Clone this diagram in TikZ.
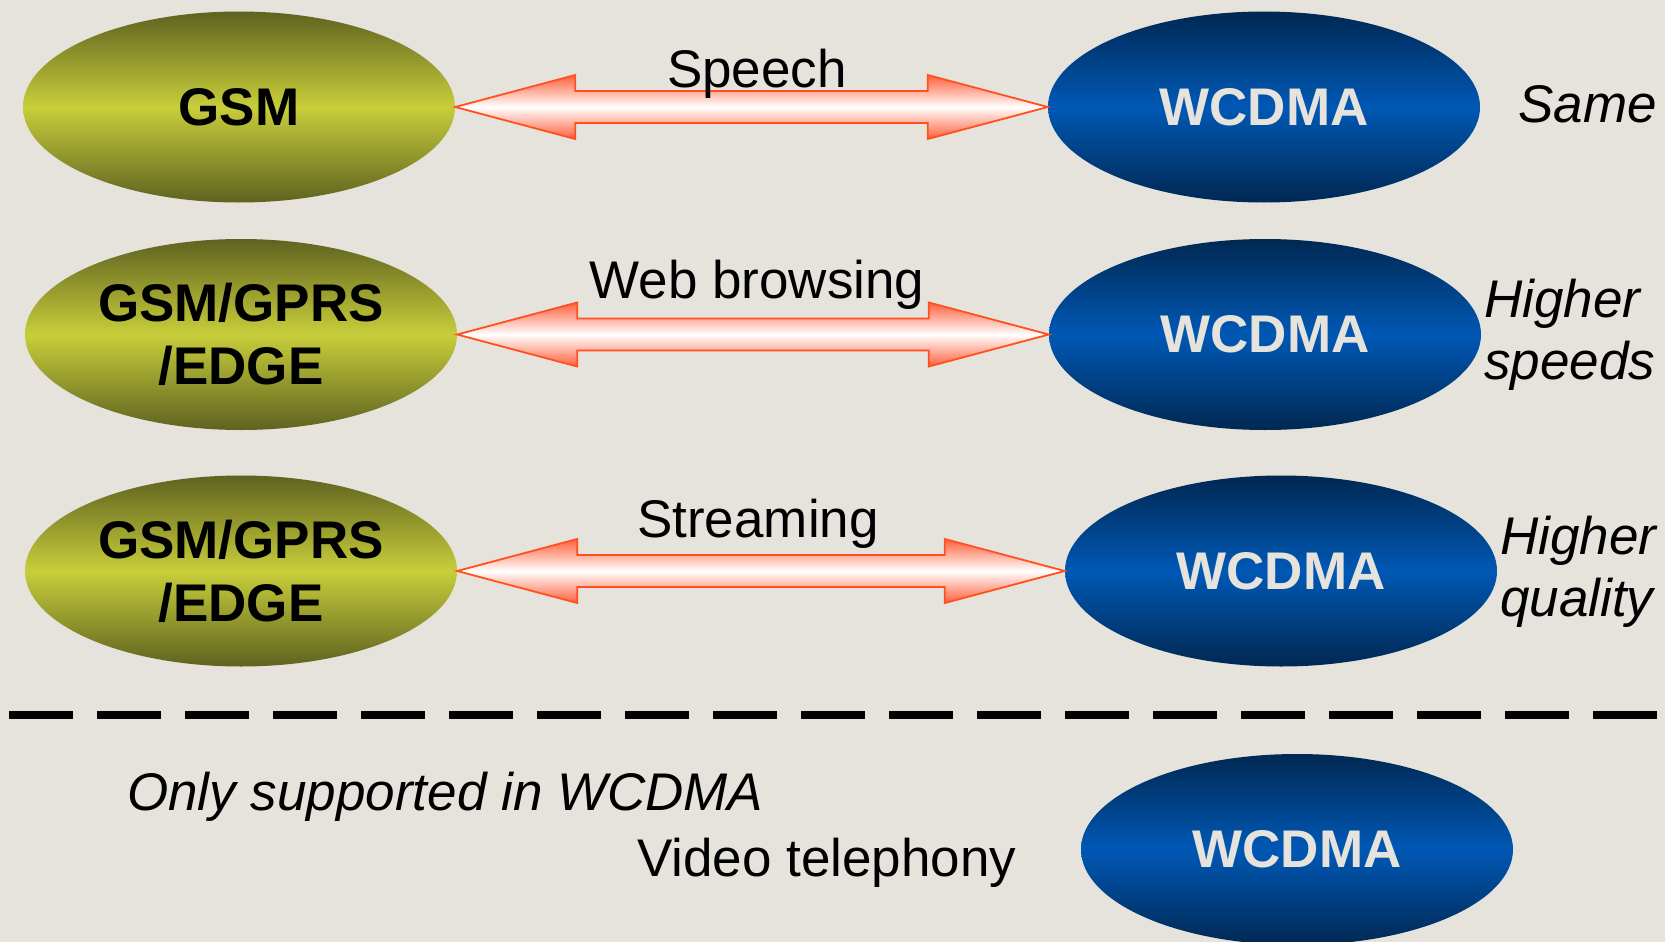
\documentclass[tikz,border=0pt]{standalone}
\usepackage{fontspec}
\setmainfont{Liberation Sans}
\usetikzlibrary{shapes.geometric,calc}

\definecolor{paper}{RGB}{229,227,220}
\definecolor{oliveDark}{RGB}{94,98,32}
\definecolor{oliveLight}{RGB}{200,206,58}
\definecolor{navyDark}{RGB}{0,40,82}
\definecolor{navyLight}{RGB}{0,88,181}
\definecolor{arrowEdge}{RGB}{255,80,30}
\definecolor{arrowFill}{RGB}{255,95,60}

\tikzset{
  bigtext/.style={font=\fontsize{53}{63}\selectfont},
  oval/.style={ellipse, minimum width=432pt, minimum height=191pt, inner sep=0pt,
    align=center, font=\fontsize{53}{63}\selectfont\bfseries},
  gsmoval/.style={oval, top color=oliveDark, bottom color=oliveDark,
    middle color=oliveLight, text=black},
  wcdmaoval/.style={oval, top color=navyDark, bottom color=navyDark,
    middle color=navyLight, text=paper},
  linklabel/.style={bigtext, anchor=base, inner sep=0pt},
  sidenote/.style={font=\fontsize{53}{62}\selectfont\itshape, anchor=base west,
    inner sep=0pt, align=left},
  dblarrowbody/.style={draw=arrowEdge, line width=1.8pt, line join=miter,
    top color=arrowFill, bottom color=arrowFill, middle color=white}
}

% double-headed block arrow between two ellipse nodes
\newcommand{\blockarrow}[2]{%
  \path[dblarrowbody] let \p1=(#1.east), \p2=(#2.west) in
    (\x1,\y1) -- (\x1+120pt,\y1+32pt) -- (\x1+120pt,\y1+16pt)
    -- (\x2-120pt,\y1+16pt) -- (\x2-120pt,\y1+32pt) -- (\x2,\y1)
    -- (\x2-120pt,\y1-32pt) -- (\x2-120pt,\y1-16pt)
    -- (\x1+120pt,\y1-16pt) -- (\x1+120pt,\y1-32pt) -- cycle;}

\begin{document}
\begin{tikzpicture}[x=1pt,y=-1pt]
  \fill[paper] (0,0) rectangle (1665,942);
  \useasboundingbox (0,0) rectangle (1665,942);

  % row 1: speech
  \node[gsmoval] (gsmA) at (239,107) {GSM};
  \node[wcdmaoval] (wcdmaA) at (1264,107) {WCDMA};
  \blockarrow{gsmA}{wcdmaA}
  \node[linklabel] (speech) at (757,87) {Speech};
  \node[sidenote] (same) at (1518,122) {Same};

  % row 2: web browsing
  \node[gsmoval] (gsmB) at (241,334.5) {GSM/GPRS\\/EDGE};
  \node[wcdmaoval] (wcdmaB) at (1265,334.5) {WCDMA};
  \blockarrow{gsmB}{wcdmaB}
  \node[linklabel] (web) at (757,298) {Web browsing};
  \node[sidenote] (speeds) at (1484,379) {Higher\\speeds};

  % row 3: streaming
  \node[gsmoval] (gsmC) at (241,571) {GSM/GPRS\\/EDGE};
  \node[wcdmaoval] (wcdmaC) at (1281,571) {WCDMA};
  \blockarrow{gsmC}{wcdmaC}
  \node[linklabel] (stream) at (758,537) {Streaming};
  \node[sidenote] (quality) at (1500,616) {Higher\\quality};

  % separator
  \draw[black, line width=8pt, dash pattern=on 64pt off 24pt] (9,715) -- (1658,715);

  % WCDMA-only service
  \node[sidenote] (only) at (127,810) {Only supported in WCDMA};
  \node[bigtext, anchor=base west, inner sep=0pt] (video) at (637,876) {Video telephony};
  \node[wcdmaoval] (wcdmaD) at (1297,849.5) {WCDMA};
\end{tikzpicture}
\end{document}
